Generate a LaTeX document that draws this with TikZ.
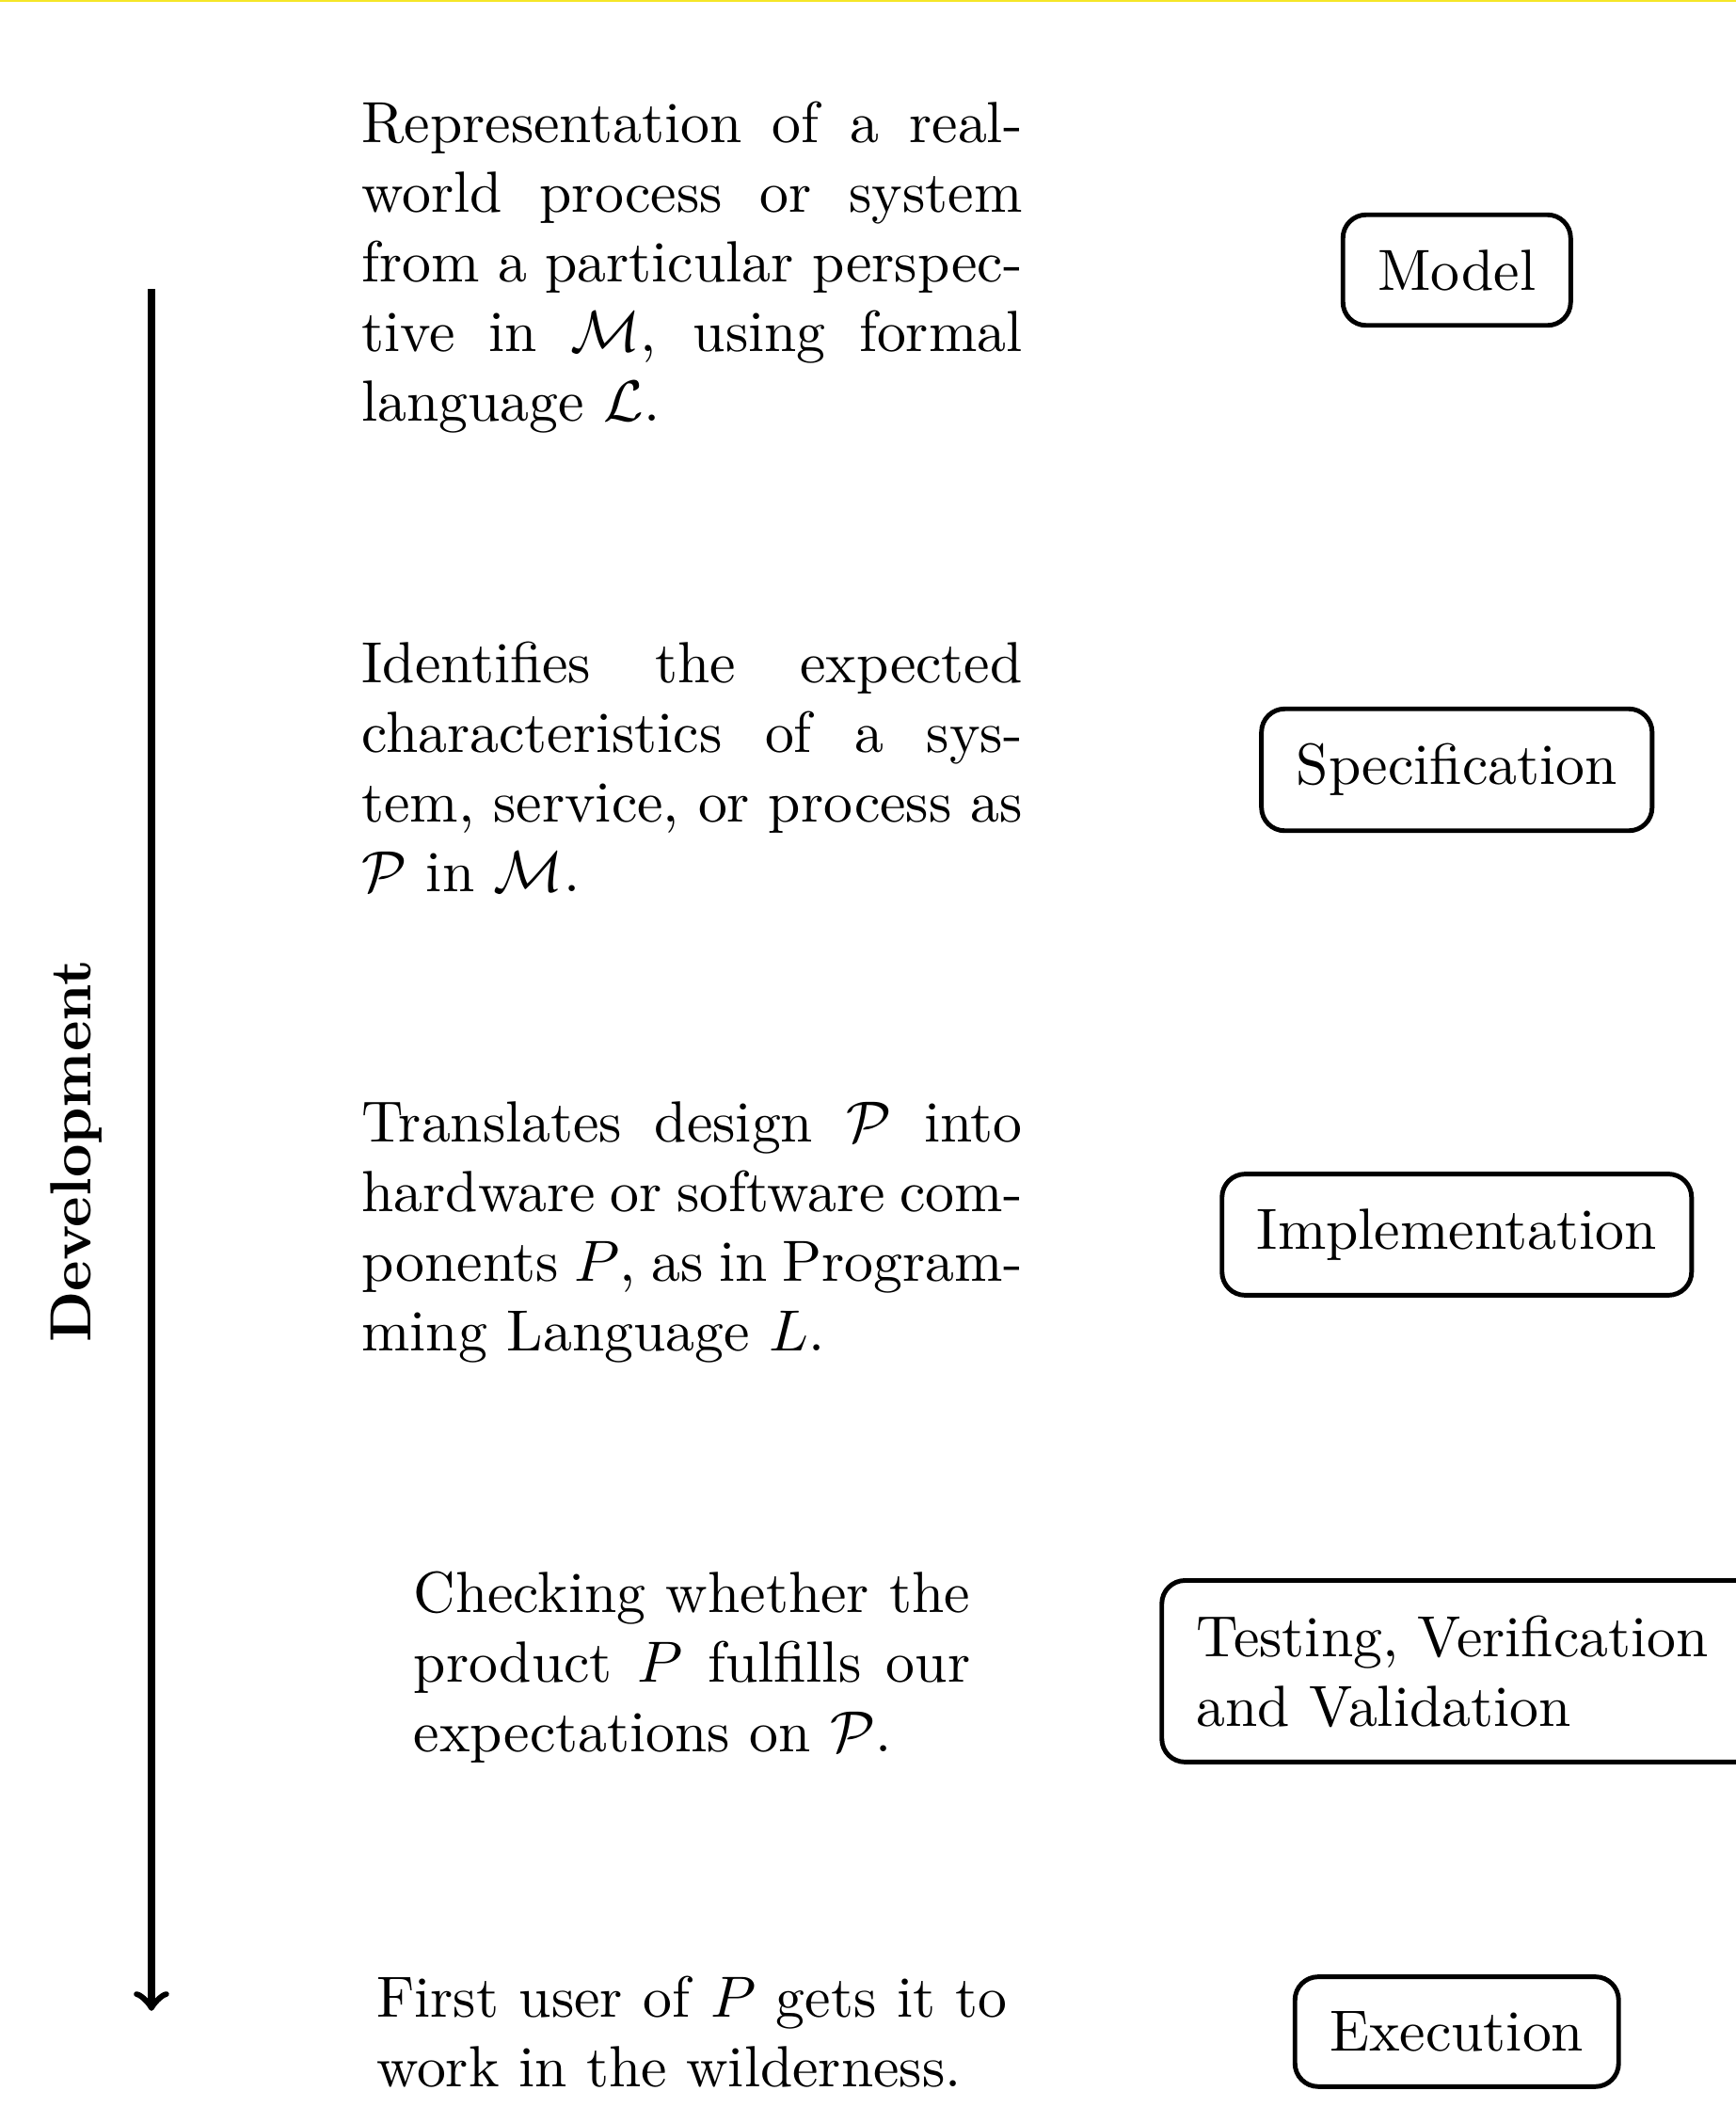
\documentclass[tikz,border=0pt]{standalone}
\definecolor{topline}{RGB}{245,230,40}

\begin{document}
\begin{tikzpicture}[
	stage/.style={draw, thick, rounded corners=4pt, inner sep=6pt},
	desc/.style={text width=4cm, align=justify, inner sep=0pt}
]
	\def\boxx{8.82}
	\def\descx{4.19}
	\useasboundingbox (0,0) rectangle (10.51,-12.755);
	\fill[topline] (0,0) rectangle (10.51,-0.012);

	% development axis
	\coordinate (devtop) at (0.917,-1.749);
	\coordinate (devbot) at (0.917,-12.173);
	\draw[very thick, ->] (devtop) -- (devbot);
	\node[rotate=90, font=\bfseries] (devlabel) at (0.46,-6.97) {Development};

	% stages
	\node[stage] (model) at (\boxx,-1.635) {Model};
	\node[stage] (spec) at (\boxx,-4.66) {Specification};
	\node[stage] (impl) at (\boxx,-7.474) {Implementation};
	\node[stage, text width=3.27cm, align=left] (tvv) at (\boxx+0.06,-10.117) {Testing, Verification\\and Validation};
	\node[stage] (exec) at (\boxx,-12.299) {Execution};

	% descriptions
	\node[desc] (modeltext) at (\descx,-1.618) {Representation of a real-world process or system from a particular perspective in $\mathcal{M}$, using formal language $\mathcal{L}$.};
	\node[desc] (spectext) at (\descx,-4.643) {Identifies the expected characteristics of a system, service, or process as $\mathcal{P}$ in $\mathcal{M}$.};
	\node[desc] (impltext) at (\descx,-7.457) {Translates design $\mathcal{P}$ into hardware or software components $P$, as in Programming Language $L$.};
	\node[desc, text width=3.37cm] (tvvtext) at (\descx,-10.094) {Checking whether the product $P$ fulfills our expectations on $\mathcal{P}$.};
	\node[desc, text width=3.82cm] (exectext) at (\descx,-12.299) {First user of $P$ gets it to work in the wilderness.};
\end{tikzpicture}
\end{document}
